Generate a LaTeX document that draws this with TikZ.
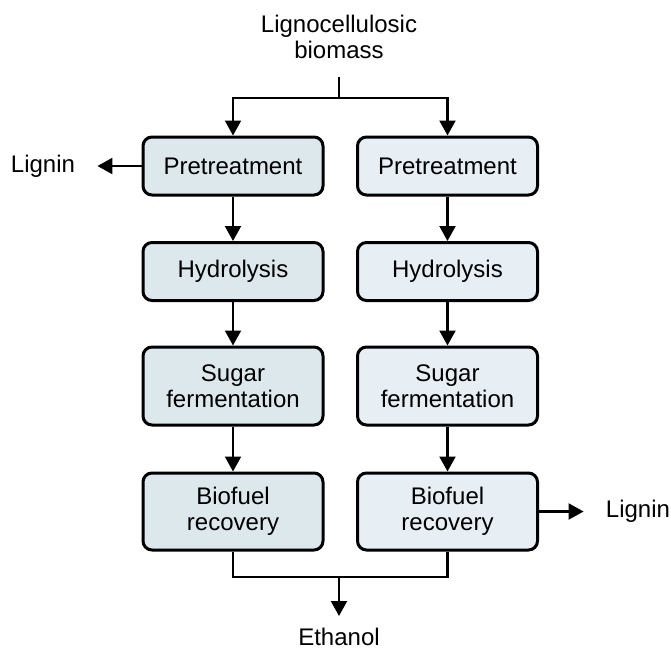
\documentclass[tikz,border=0pt]{standalone}
\usepackage{fontspec}
\setmainfont{Liberation Sans}
\usetikzlibrary{arrows.meta}
\definecolor{boxleft}{HTML}{DCE8EC}
\definecolor{boxright}{HTML}{E7EEF4}

\begin{document}
\begin{tikzpicture}[x=0.5pt,y=-0.5pt,
  every node/.style={font=\fontsize{12}{13}\selectfont, align=center},
  stage/.style={draw, line width=1.5pt, rounded corners=4.5pt,
    minimum width=90pt, inner sep=0pt},
  flow/.style={line width=1.1pt, -{Triangle[length=7.5pt,width=8pt]}},
  link/.style={line width=1.1pt},
  side/.style={inner xsep=11pt, inner ysep=0pt}]

\useasboundingbox (0,0) rectangle (671,649);

% feed
\node (feed) at (339,37) {Lignocellulosic\\biomass};
\coordinate (top) at (339,77);
\coordinate (split) at (339,98);

% left route
\node[stage, fill=boxleft, minimum height=29pt] (pl) at (233,166) {Pretreatment};
\node[stage, fill=boxleft, minimum height=29pt] (hl) at (233,271.5) {Hydrolysis};
\node[stage, fill=boxleft, minimum height=39pt] (sl) at (233,386) {Sugar\\fermentation};
\node[stage, fill=boxleft, minimum height=38.5pt] (bl) at (233,511.5) {Biofuel\\recovery};

% right route
\node[stage, fill=boxright, minimum height=29pt] (pr) at (447.5,166) {Pretreatment};
\node[stage, fill=boxright, minimum height=29pt] (hr) at (447.5,271.5) {Hydrolysis};
\node[stage, fill=boxright, minimum height=39pt] (sr) at (447.5,386) {Sugar\\fermentation};
\node[stage, fill=boxright, minimum height=38.5pt] (br) at (447.5,511.5) {Biofuel\\recovery};

% by-products and product
\node[side] (ligl) at (43,166) {Lignin};
\node[side] (ligr) at (638,511.5) {Lignin};
\node (eth) at (339,637) {Ethanol};
\coordinate (join) at (339,577);
\coordinate (out) at (339,616);

% connectors
\draw[link] (top) -- (split);
\draw[flow] (split) -| (pl.north);
\draw[flow] (split) -| (pr.north);
\draw[flow] (pl) -- (hl);
\draw[flow] (hl) -- (sl);
\draw[flow] (sl) -- (bl);
\draw[flow] (pr) -- (hr);
\draw[flow] (hr) -- (sr);
\draw[flow] (sr) -- (br);
\draw[flow] (pl.west) -- (ligl.east);
\draw[flow] (br.east) -- (ligr.west);
\draw[link] (bl.south) |- (join) -| (br.south);
\draw[flow] (join) -- (out);

\end{tikzpicture}
\end{document}
